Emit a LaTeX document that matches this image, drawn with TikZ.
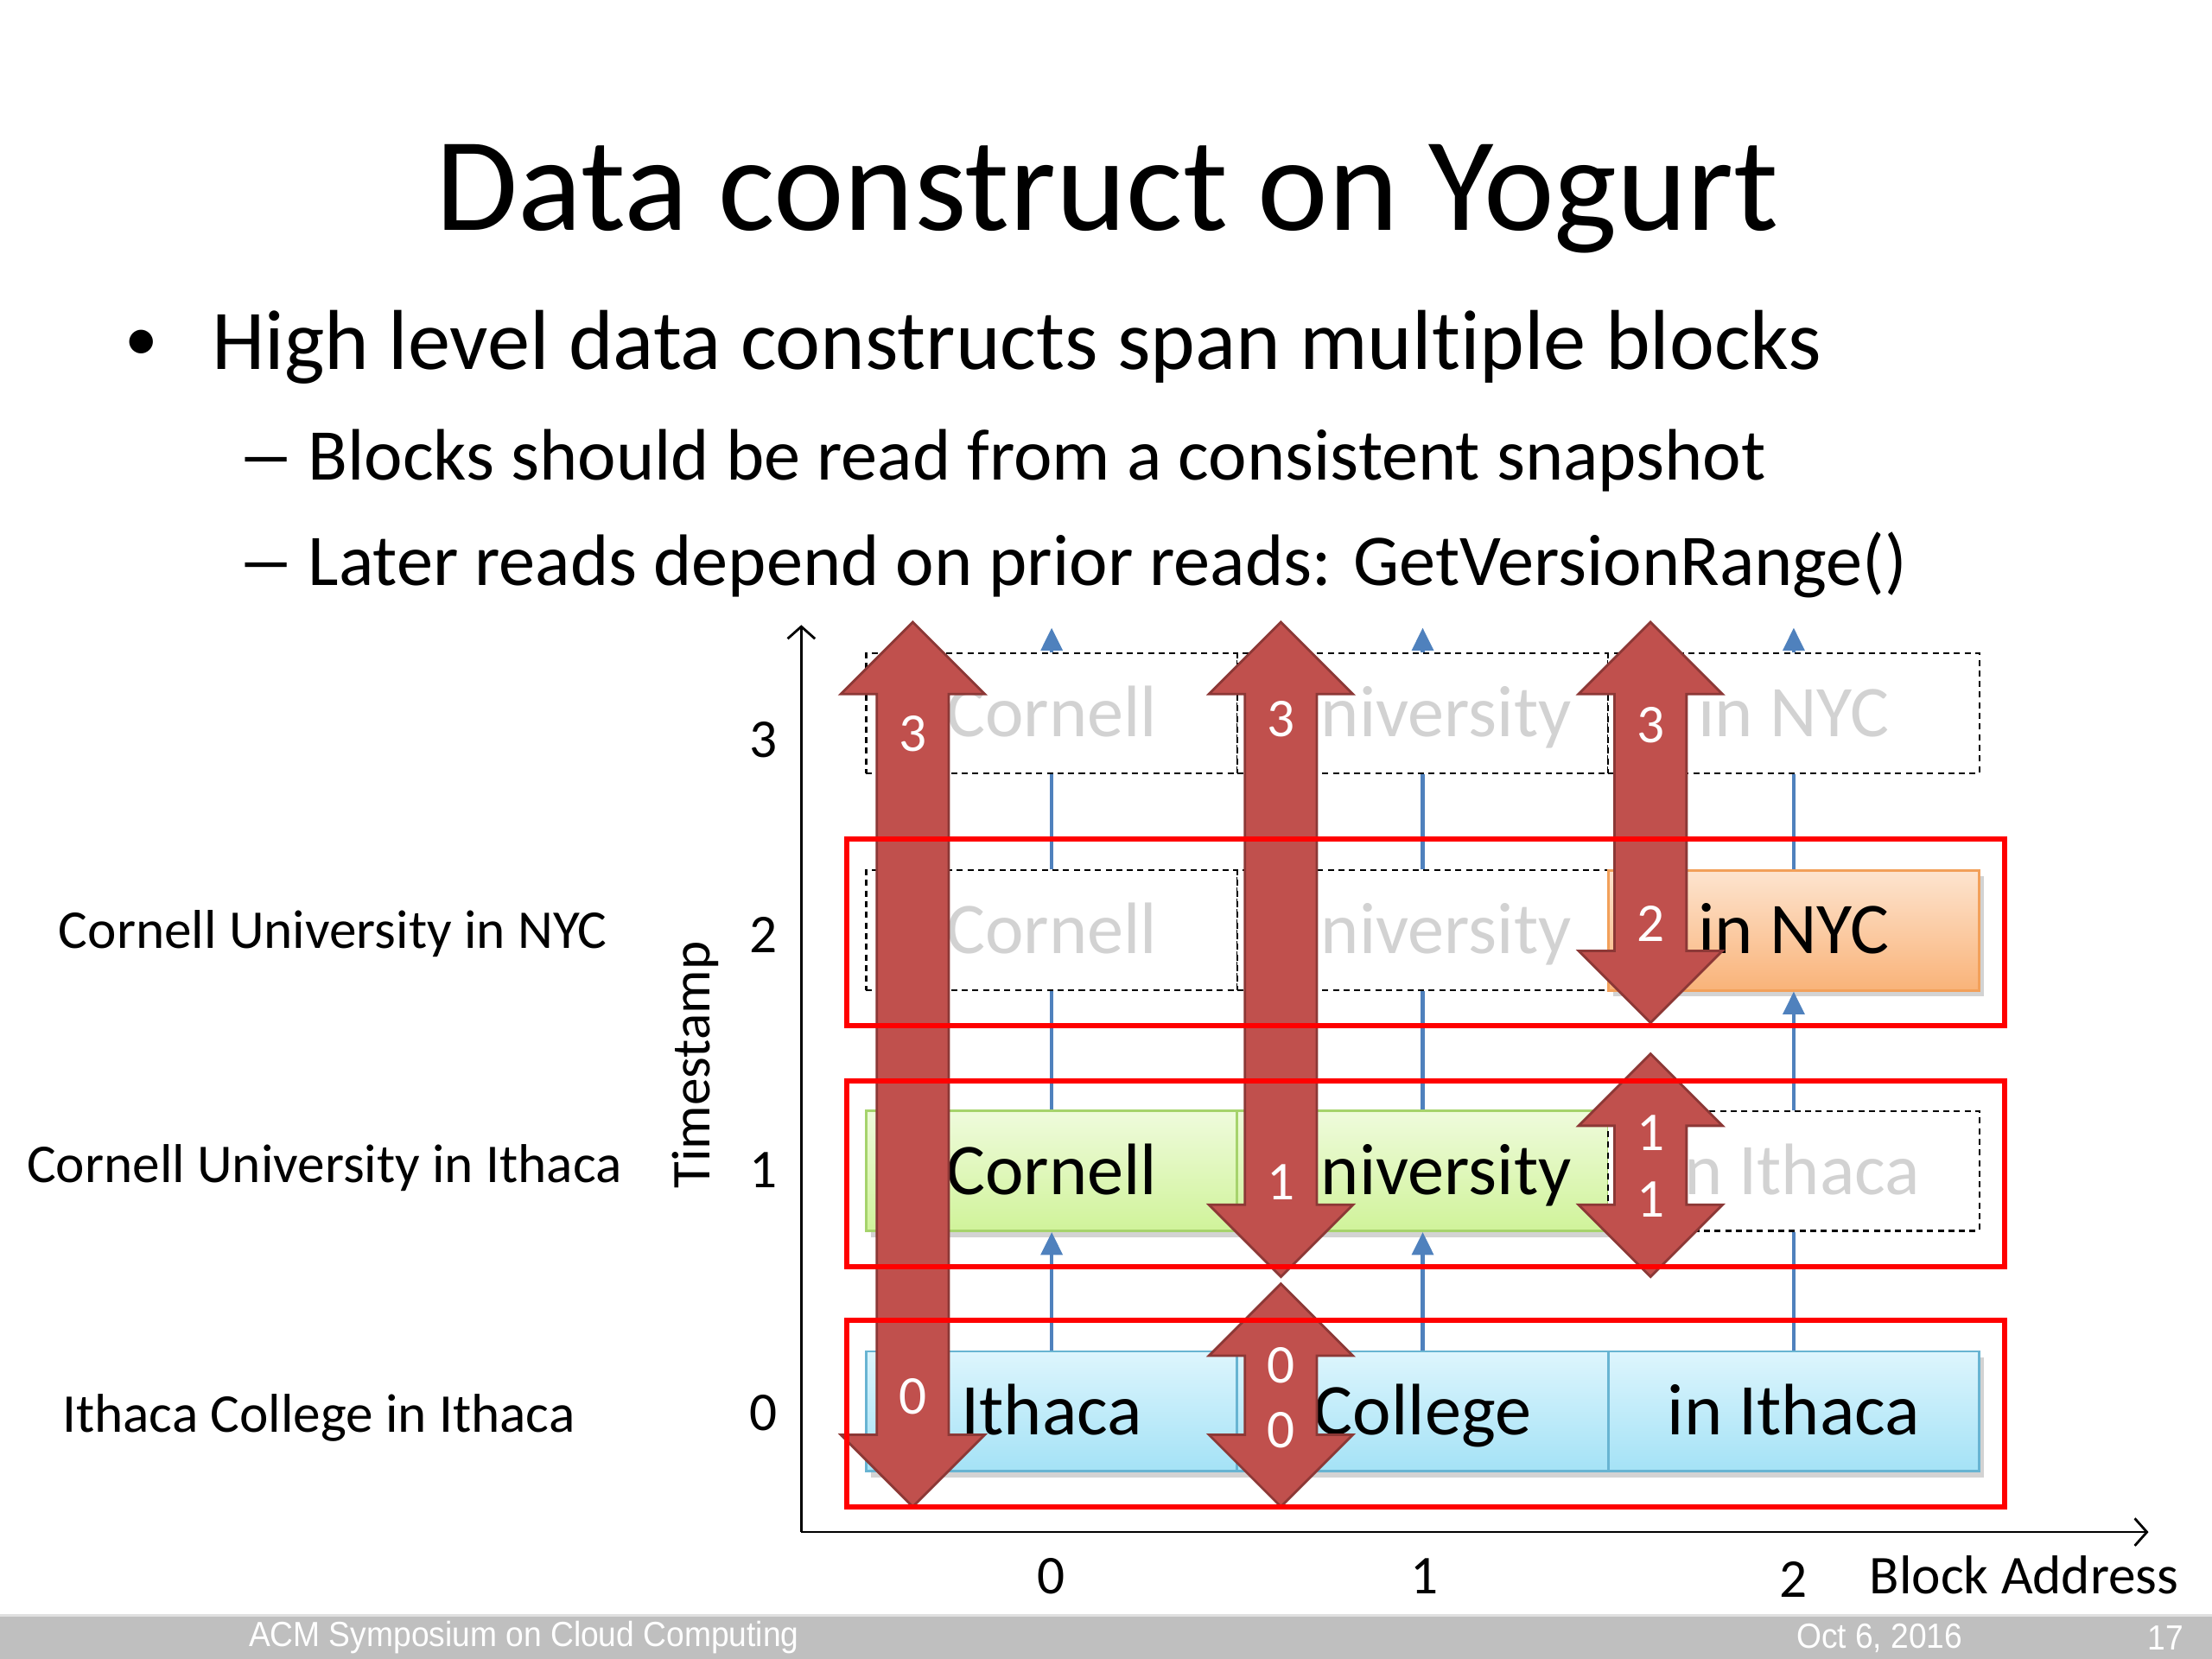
\documentclass[tikz,border=0pt]{standalone}
\usepackage{fontspec}
\setmainfont{Carlito}[Ligatures=NoCommon]
\newfontfamily\footfont{Liberation Sans}
\usetikzlibrary{arrows.meta,shadows}
\definecolor{blueln}{HTML}{4F81BD}
\definecolor{arrowfill}{HTML}{C0504D}
\definecolor{arrowdraw}{HTML}{8C3836}
\definecolor{txtgray}{HTML}{D2D2D2}
\definecolor{footgray}{HTML}{BFBFBF}
\definecolor{bluetop}{HTML}{DDF5FD}
\definecolor{bluebot}{HTML}{A4E2F6}
\definecolor{blueedge}{HTML}{68B4D2}
\definecolor{greentop}{HTML}{EFFBDC}
\definecolor{greenbot}{HTML}{D0F39A}
\definecolor{greenedge}{HTML}{A6D36C}
\definecolor{orangetop}{HTML}{FDE4CF}
\definecolor{orangebot}{HTML}{F9B379}
\definecolor{orangeedge}{HTML}{F2A05A}
\newcommand{\bigdarrow}[3]{%
  \filldraw[bigarrow] (#1,#2) -- ++(51,51) -- ++(-25.5,0) -- (#1+25.5,#3-51) -- ++(25.5,0)
    -- (#1,#3) -- ++(-51,-51) -- ++(25.5,0) -- (#1-25.5,#2+51) -- ++(-25.5,0) -- cycle;}
\begin{document}
\begin{tikzpicture}[x=0.0163265cm,y=-0.0163265cm,
  blk/.style={minimum width=4.294cm, minimum height=1.388cm, inner sep=0pt,
    font=\fontsize{24}{28}\selectfont, text height=15.5pt, text depth=0pt, line width=0.8pt},
  shad/.style={drop shadow={opacity=0.35, shadow xshift=1.5pt, shadow yshift=-2pt}},
  blkblue/.style={blk, shad, draw=blueedge, top color=bluetop, bottom color=bluebot},
  blkgreen/.style={blk, shad, draw=greenedge, top color=greentop, bottom color=greenbot},
  blkorange/.style={blk, shad, draw=orangeedge, top color=orangetop, bottom color=orangebot},
  blkdash/.style={blk, draw=black, fill=white, line width=0.6pt, dash pattern=on 2pt off 1.5pt, text=txtgray},
  bluel/.style={draw=blueln, line width=1.3pt},
  bluea/.style={bluel, -{Triangle[width=7pt,length=7.5pt]}},
  axis/.style={draw=black, line width=0.8pt, -{Straight Barb[length=4pt,width=9pt]}},
  bigarrow/.style={fill=arrowfill, draw=arrowdraw, line width=0.8pt},
  redframe/.style={draw=red, line width=1.7pt},
  numlbl/.style={text=white, font=\fontsize{18}{20}\selectfont, inner sep=0pt},
  lbl/.style={font=\fontsize{18}{21}\selectfont, inner sep=0pt, anchor=base},
  body/.style={inner sep=0pt, anchor=base west},
  foot/.style={text=white, font=\footfont\fontsize{11.5}{13}\selectfont, inner sep=0pt}
]
\useasboundingbox (0,0) rectangle (1568,1176);

% title and bullets
\node[font=\fontsize{44}{52}\selectfont, inner sep=0pt, anchor=base] (title) at (785,163) {Data construct on Yogurt};
\node[font=\fontsize{22}{26}\selectfont, inner sep=0pt] (bul) at (100,245) {•};
\node[body, font=\fontsize{28}{32}\selectfont] (l1) at (150,262) {High level data constructs span multiple blocks};
\node[body, font=\fontsize{24}{28}\selectfont] (d2) at (168,340) {\scalebox{1.6}[1]{–}};
\node[body, font=\fontsize{24}{28}\selectfont] (l2) at (218,340) {Blocks should be read from a consistent snapshot};
\node[body, font=\fontsize{24}{28}\selectfont] (d3) at (168,415) {\scalebox{1.6}[1]{–}};
\node[body, font=\fontsize{24}{28}\selectfont] (l3) at (218,415) {Later reads depend on prior reads: GetVersionRange()};

% axes
\coordinate (origin) at (568,1086);
\coordinate (ytop) at (568,443);
\coordinate (xend) at (1523,1086);
\draw[axis] (origin) -- (ytop);
\draw[axis] (origin) -- (xend);

% axis labels
\node[lbl] (y3) at (541,537) {3};
\node[lbl] (y2) at (541,675) {2};
\node[lbl] (y1) at (541,842) {1};
\node[lbl] (y0) at (541,1014) {0};
\node[font=\fontsize{18}{21}\selectfont, inner sep=0pt, rotate=90] (ts) at (493,755) {Timestamp};
\node[lbl] (x0) at (745,1130) {0};
\node[lbl] (x1) at (1010,1130) {1};
\node[lbl] (x2) at (1271,1132) {2};
\node[lbl, anchor=base west] (xa) at (1325,1130) {Block Address};

% row labels
\node[lbl] (r2lbl) at (236,672) {Cornell University in NYC};
\node[lbl] (r1lbl) at (230,838) {Cornell University in Ithaca};
\node[lbl] (r0lbl) at (226,1015) {Ithaca College in Ithaca};

% blocks
\node[blkblue] (b00) at (745.5,1000.5) {Ithaca};
\node[blkblue] (b10) at (1008.5,1000.5) {College};
\node[blkblue] (b20) at (1271.5,1000.5) {in Ithaca};
\node[blkgreen] (b01) at (745.5,830) {Cornell};
\node[blkgreen] (b11) at (1008.5,830) {\phantom{U}niversity};
\node[blkdash] (b21) at (1271.5,830) {\phantom{i}n Ithaca};
\node[blkdash] (b02) at (745.5,659.5) {Cornell};
\node[blkdash] (b12) at (1008.5,659.5) {\phantom{U}niversity};
\node[blkorange] (b22) at (1271.5,659.5) {in NYC};
\node[blkdash] (b03) at (745.5,505.5) {Cornell};
\node[blkdash] (b13) at (1008.5,505.5) {\phantom{U}niversity};
\node[blkdash] (b23) at (1271.5,505.5) {in NYC};

% version chains
\coordinate (t0) at (745.5,445);
\coordinate (t1) at (1008.5,445);
\coordinate (t2) at (1271.5,445);
\draw[bluea] (b00.north) -- (b01.south);
\draw[bluea] (b10.north) -- (b11.south);
\draw[bluel] (b20.north) -- (b21.south);
\draw[bluel] (b01.north) -- (b02.south);
\draw[bluel] (b11.north) -- (b12.south);
\draw[bluea] (b21.north) -- (b22.south);
\draw[bluel] (b02.north) -- (b03.south);
\draw[bluel] (b12.north) -- (b13.south);
\draw[bluel] (b22.north) -- (b23.south);
\draw[bluea] (b03.north) -- (t0);
\draw[bluea] (b13.north) -- (t1);
\draw[bluea] (b23.north) -- (t2);

% big read arrows
\bigdarrow{647}{441}{1068}
\bigdarrow{908}{441}{905}
\bigdarrow{1170}{441}{725}
\bigdarrow{1170}{747}{905}
\bigdarrow{908}{910}{1068}

% snapshot frames
\draw[redframe] (600,595) rectangle (1421,727);
\draw[redframe] (600,766) rectangle (1421,898);
\draw[redframe] (600,936) rectangle (1421,1068);

% arrow labels
\node[numlbl] (a3) at (647,520) {3};
\node[numlbl] (a0) at (647,990) {0};
\node[numlbl] (b3) at (908,510) {3};
\node[numlbl] (b1) at (908,838) {1};
\node[numlbl] (c3) at (1170,514) {3};
\node[numlbl] (c2) at (1170,655) {2};
\node[numlbl] (d1a) at (1170,803) {1};
\node[numlbl] (d1b) at (1170,850) {1};
\node[numlbl] (e0a) at (908,968) {0};
\node[numlbl] (e0b) at (908,1014) {0};

% footer
\fill[footgray] (0,1145) rectangle (1568,1176);
\draw[color=black!12, line width=1pt] (0,1145) -- (1568,1145);
\node[foot, anchor=west] (f1) at (176,1161) {\scalebox{0.92}[1]{ACM Symposium on Cloud Computing}};
\node[foot, anchor=west] (f2) at (1273,1161) {\scalebox{0.92}[1]{Oct 6, 2016}};
\node[foot] (f3) at (1535,1161) {\scalebox{0.92}[1]{17}};
\end{tikzpicture}
\end{document}
